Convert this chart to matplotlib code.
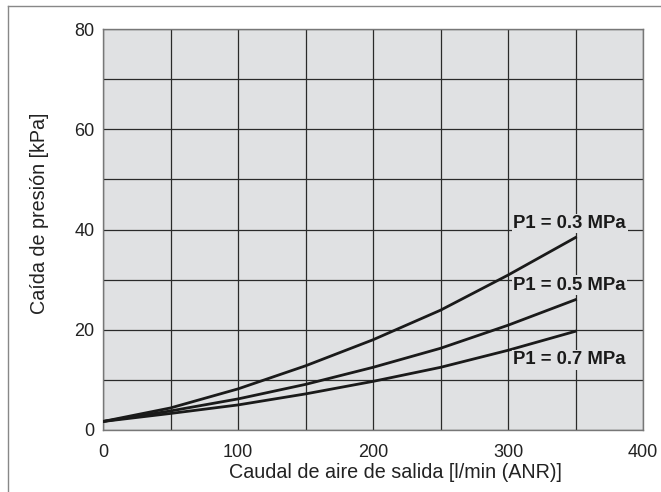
import matplotlib
matplotlib.use("Agg")
import matplotlib.pyplot as plt
from matplotlib.lines import Line2D

flow = [0, 50, 100, 150, 200, 250, 300, 350]
drop_03 = [1.7, 4.4, 8.2, 12.8, 18.0, 23.9, 30.9, 38.4]
drop_05 = [1.7, 3.8, 6.2, 9.1, 12.5, 16.3, 20.9, 26.0]
drop_07 = [1.7, 3.3, 5.0, 7.2, 9.7, 12.5, 15.9, 19.7]
labels = ["P1 = 0.3 MPa", "P1 = 0.5 MPa", "P1 = 0.7 MPa"]
label_x = [304, 304, 304]
label_y = [41.2, 28.9, 14.0]
xticks = [0, 100, 200, 300, 400]
yticks = [0, 20, 40, 60, 80]

plt.rcParams['font.family'] = ['Liberation Sans', 'DejaVu Sans']

fig = plt.figure(figsize=(6.61, 4.92), dpi=100)
ax = fig.add_axes([103/661, 62/492, 540/661, 401/492])
bg = '#e0e1e3'
ax.set_facecolor(bg)
ax.set_xlim(0, 400)
ax.set_ylim(0, 80)
ax.set_xticks(xticks)
ax.set_yticks(yticks)
ax.set_xticks(range(0, 401, 50), minor=True)
ax.set_yticks(range(0, 81, 10), minor=True)
ax.grid(True, which='both', color='#2a2a2a', linewidth=0.9)
ax.tick_params(which='both', length=0, labelsize=13, colors='#222222')
ax.tick_params(axis='x', pad=10)
ax.tick_params(axis='y', pad=6)
for s in ax.spines.values():
    s.set_color('#777777')
    s.set_linewidth(1.0)
ax.set_axisbelow(True)

for ys in (drop_03, drop_05, drop_07):
    ax.plot(flow, ys, color='#1a1a1a', linewidth=2.0, zorder=3)

for t, lx, ly in zip(labels, label_x, label_y):
    ax.text(lx, ly, t, fontsize=13.3, fontweight='bold', color='#1a1a1a',
            family=['Liberation Sans Narrow', 'Liberation Sans', 'DejaVu Sans'],
            ha='left', va='center', zorder=4,
            bbox=dict(facecolor=bg, edgecolor='none', pad=1.0))

ax.set_xlabel('Caudal de aire de salida [l/min (ANR)]', fontsize=14.2, color='#222222')
ax.set_ylabel('Caída de presión [kPa]', fontsize=14.2, color='#222222')
ax.xaxis.set_label_coords(0.541, -0.082)
ax.yaxis.set_label_coords(-0.1, 0.541)

fig.add_artist(Line2D([8/661, 8/661], [0, 1 - 6/492], transform=fig.transFigure, color='#888888', linewidth=1.0))
fig.add_artist(Line2D([8/661, 1], [1 - 6/492, 1 - 6/492], transform=fig.transFigure, color='#888888', linewidth=1.0))

fig.savefig('out.png', dpi=100)
